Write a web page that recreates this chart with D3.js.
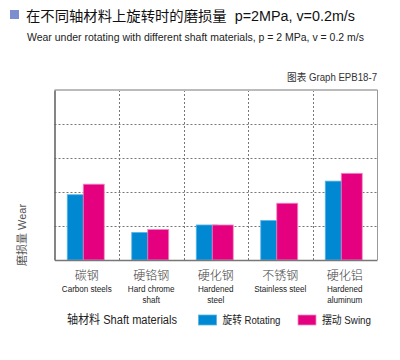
<!DOCTYPE html>
<html><head><meta charset="utf-8">
<script src="https://cdn.jsdelivr.net/npm/d3@7/dist/d3.min.js"></script>
<style>
html,body{margin:0;padding:0;background:#fff;}
svg{display:block;}
text{font-family:"Liberation Sans","Noto Sans CJK SC",sans-serif;}
.cjk{font-family:"Noto Sans CJK SC","Liberation Sans",sans-serif;font-weight:300;}
</style></head>
<body>
<script>
const categoriesZh = ["碳钢", "硬铬钢", "硬化钢", "不锈钢", "硬化铝"];
const categoriesEn = [["Carbon steels"], ["Hard chrome", "shaft"], ["Hardened", "steel"], ["Stainless steel"], ["Hardened", "aluminum"]];
const seriesNames = ["旋转 Rotating", "摆动 Swing"];
const rotating = [1.92, 0.81, 1.03, 1.16, 2.32];
const swing = [2.23, 0.90, 1.03, 1.67, 2.55];
const yTicks = [1, 2, 3, 4];
const colors = ["#0088d2", "#e4007f"];
const strokes = ["#5ab4e6", "#f28cc4"];

const W = 400, H = 360;
const svg = d3.select("body").append("svg").attr("width", W).attr("height", H);

const pL = 54.5, pR = 377, pT = 90, pB = 260;
const x = d3.scaleBand().domain(d3.range(categoriesZh.length)).range([pL, pR]).padding(0);
const y = d3.scaleLinear().domain([0, 5]).range([pB, pT]);
const x1 = d3.scalePoint().domain([0, 1]).range([-19.5, -3.5]);
const barW = 21;

// gridlines
const g = svg.append("g");
g.selectAll("line.hg").data(yTicks).join("line")
  .attr("x1", pL).attr("x2", pR)
  .attr("y1", d => Math.round(y(d)) + 0.5).attr("y2", d => Math.round(y(d)) + 0.5)
  .attr("stroke", "#777").attr("stroke-width", 1).attr("stroke-dasharray", "2,2");
g.selectAll("line.vg").data(d3.range(1, categoriesZh.length)).join("line")
  .attr("x1", d => Math.round(x(d)) + 0.5).attr("x2", d => Math.round(x(d)) + 0.5)
  .attr("y1", pT).attr("y2", pB)
  .attr("stroke", "#777").attr("stroke-width", 1).attr("stroke-dasharray", "2,2");

// frame
svg.append("line").attr("x1", pL).attr("x2", pR + 0.5).attr("y1", pT).attr("y2", pT)
  .attr("stroke", "#bbb").attr("stroke-width", 2);
svg.append("line").attr("x1", pR + 0.5).attr("x2", pR + 0.5).attr("y1", pT).attr("y2", pB)
  .attr("stroke", "#999").attr("stroke-width", 1);

// bars
const data = [rotating, swing];
data.forEach((vals, si) => {
  svg.append("g").selectAll("rect").data(vals).join("rect")
    .attr("x", (d, i) => x(i) + x.bandwidth() / 2 + x1(si))
    .attr("y", d => y(d))
    .attr("width", barW)
    .attr("height", d => pB - y(d))
    .attr("fill", colors[si])
    .attr("stroke", strokes[si]).attr("stroke-width", 0.8);
});

// axes
const yAxis = d3.axisLeft(y).tickValues([]).tickSize(0);
svg.append("g").attr("transform", `translate(${pL},0)`).call(yAxis)
  .call(s => s.select(".domain").attr("stroke", "#666").attr("stroke-width", 1.6));
const xAxis = d3.axisBottom(x).tickValues([]).tickSize(0);
svg.append("g").attr("transform", `translate(0,${pB})`).call(xAxis)
  .call(s => s.select(".domain").attr("stroke", "#777").attr("stroke-width", 1.6));

// category labels
const lab = svg.append("g");
categoriesZh.forEach((c, i) => {
  const cx = x(i) + x.bandwidth() / 2;
  lab.append("text").attr("class", "cjk").attr("x", cx).attr("y", 280)
    .attr("text-anchor", "middle").attr("font-size", 12).attr("fill", "#444").text(c);
  categoriesEn[i].forEach((t, j) => {
    lab.append("text").attr("x", cx).attr("y", 292 + j * 11.5)
      .attr("text-anchor", "middle").attr("font-size", 9).attr("fill", "#222")
      .attr("transform", `translate(${cx},0) scale(0.9,1) translate(${-cx},0)`).text(t);
  });
});

// title
svg.append("rect").attr("x", 10).attr("y", 10).attr("width", 9).attr("height", 9).attr("fill", "#7b8fd0");
svg.append("text").attr("x", 26).attr("y", 20.5).attr("font-size", 14).attr("fill", "#111")
  .attr("textLength", 329).attr("lengthAdjust", "spacingAndGlyphs")
  .text("在不同轴材料上旋转时的磨损量\u00a0\u00a0p=2MPa, v=0.2m/s");
svg.append("text").attr("x", 27).attr("y", 41).attr("font-size", 10.5).attr("fill", "#222")
  .attr("textLength", 337).attr("lengthAdjust", "spacingAndGlyphs")
  .text("Wear under rotating with different shaft materials, p = 2 MPa, v = 0.2 m/s");
svg.append("text").attr("x", 377).attr("y", 81).attr("text-anchor", "end").attr("font-size", 10).attr("fill", "#333")
  .attr("textLength", 90).attr("lengthAdjust", "spacingAndGlyphs")
  .text("图表 Graph EPB18-7");

// y label
svg.append("text").attr("transform", "translate(26,235) rotate(-90)").attr("text-anchor", "middle")
  .attr("font-size", 11).attr("fill", "#555").text("磨损量 Wear");

// legend
svg.append("text").attr("x", 67).attr("y", 324).attr("font-size", 12).attr("fill", "#222")
  .attr("textLength", 110).attr("lengthAdjust", "spacingAndGlyphs").text("轴材料 Shaft materials");
const legX = [198.5, 298];
const legTW = [58, 49];
seriesNames.forEach((n, i) => {
  svg.append("rect").attr("x", legX[i]).attr("y", 315).attr("width", 18).attr("height", 10)
    .attr("fill", colors[i]).attr("stroke", strokes[i]).attr("stroke-width", 0.8);
  svg.append("text").attr("x", legX[i] + 24).attr("y", 324).attr("font-size", 11).attr("fill", "#222")
    .attr("textLength", legTW[i]).attr("lengthAdjust", "spacingAndGlyphs").text(n);
});
</script>
</body></html>
